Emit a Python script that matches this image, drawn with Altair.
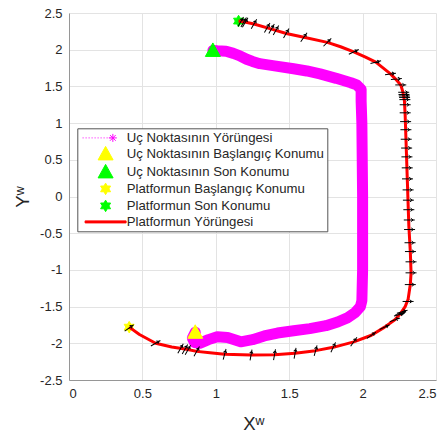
import math
import altair as alt
import pandas as pd

# Uç noktasının (end effector) yörüngesi
uc_x = [0.86, 0.84, 0.855, 0.89, 0.95, 1.01, 1.08, 1.17, 1.25, 1.33, 1.42, 1.53,
        1.64, 1.75, 1.83, 1.90, 1.95, 1.985, 1.995, 2.0, 2.0, 1.995, 1.99, 1.99,
        1.96, 1.92, 1.82, 1.71, 1.62, 1.53, 1.40, 1.30, 1.25, 1.21, 1.16, 1.12,
        1.07, 1.01, 0.98]
uc_y = [-1.85, -1.93, -1.99, -2.0, -1.95, -1.91, -1.92, -1.98, -1.95, -1.90, -1.86, -1.83,
        -1.80, -1.76, -1.71, -1.65, -1.58, -1.50, -1.42, -1.0, 0.0, 1.0, 1.30, 1.46,
        1.52, 1.55, 1.61, 1.67, 1.71, 1.74, 1.78, 1.81, 1.84, 1.87, 1.92, 1.95,
        1.98, 1.985, 1.99]

# Platformun yörüngesi
pl_x = [0.41, 0.48, 0.59, 0.70, 0.80, 0.87, 0.96, 1.06, 1.24, 1.40, 1.54, 1.68,
        1.80, 1.94, 2.06, 2.15, 2.22, 2.26, 2.29, 2.31, 2.325, 2.33, 2.325, 2.315,
        2.31, 2.305, 2.30, 2.295, 2.29, 2.285, 2.275, 2.26, 2.22, 2.19, 2.09, 2.02,
        1.94, 1.85, 1.76, 1.60, 1.48, 1.38, 1.26, 1.19, 1.155]
pl_y = [-1.78, -1.88, -2.0, -2.05, -2.08, -2.11, -2.13, -2.15, -2.16, -2.155, -2.135, -2.10,
        -2.055, -1.98, -1.89, -1.78, -1.68, -1.59, -1.50, -1.40, -1.2, -1.04, -0.75, -0.40,
        -0.1, 0.2, 0.5, 0.8, 1.1, 1.30, 1.42, 1.52, 1.61, 1.67, 1.83, 1.90,
        1.97, 2.04, 2.10, 2.17, 2.22, 2.28, 2.35, 2.38, 2.39]

# Platform yönelim okları: konum ve açı (derece, saat yönünde)
ok_x = [1.17, 1.19, 1.20, 1.26, 1.35, 1.38, 1.41, 1.48, 1.60, 1.76, 1.94, 2.09, 2.19, 2.23,
        2.26, 2.28, 2.282, 2.284, 2.286, 2.288, 2.29, 2.29, 2.293, 2.295, 2.297, 2.30,
        2.302, 2.304, 2.306, 2.31, 2.312, 2.315, 2.318, 2.32, 2.323, 2.326, 2.33, 2.33,
        2.325, 2.31,
        0.41, 0.59, 0.76, 0.79, 0.81, 0.87, 1.06, 1.24, 1.40, 1.54, 1.68, 1.80, 1.94,
        2.06, 2.15, 2.22, 2.25, 2.26, 2.27]
ok_y = [2.38, 2.375, 2.37, 2.35, 2.30, 2.285, 2.265, 2.225, 2.17, 2.10, 1.97, 1.83, 1.67, 1.60,
        1.52, 1.42, 1.39, 1.37, 1.35, 1.32, 1.25, 1.14, 1.02, 0.91, 0.78, 0.66,
        0.54, 0.39, 0.24, 0.09, -0.05, -0.18, -0.32, -0.45, -0.63, -0.75, -0.89, -1.04,
        -1.20, -1.43,
        -1.79, -2.0, -2.07, -2.08, -2.09, -2.11, -2.15, -2.16, -2.155, -2.135, -2.10, -2.055, -1.98,
        -1.89, -1.78, -1.68, -1.61, -1.59, -1.57]
ok_aci = [300, 300, 300, 300, 300, 300, 300, 300, 305, 315, 335, 345, 352, 355,
          0, 0, 0, 0, 0, 0, 0, 0, 0, 0, 0, 0,
          0, 0, 0, 0, 0, 0, 0, 0, 0, 0, 0, 0,
          0, 0,
          325, 330, 300, 300, 300, 300, 285, 280, 280, 280, 285, 295, 305,
          325, 335, 340, 345, 345, 345]

seriler = ["Uç Noktasının Yörüngesi", "Uç Noktasının Başlangıç Konumu",
           "Uç Noktasının Son Konumu", "Platformun Başlangıç Konumu",
           "Platformun Son Konumu", "Platformun Yörüngesi"]
renkler = ["#FF00FF", "#FFFF00", "#00FF00", "#FFFF00", "#00FF00", "#FF0000"]


def hexagram(r):
    pts = []
    for k in range(12):
        a = math.radians(-90 + 30 * k)
        rr = r if k % 2 == 0 else r / math.sqrt(3)
        pts.append(f"{rr * math.cos(a):.3f},{rr * math.sin(a):.3f}")
    return "M" + "L".join(pts) + "Z"


def noktali_yildiz():
    parts = []
    x = -4.6
    while x < 1.0:
        parts.append(f"M{x:.2f},0L{x + 0.2:.2f},0")
        x += 0.6
    cx, s, d = 1.45, 0.8, 0.57
    parts.append(f"M{cx},{-s}L{cx},{s}M{cx - s},0L{cx + s},0")
    parts.append(f"M{cx - d},{-d}L{cx + d},{d}M{cx - d},{d}L{cx + d},{-d}")
    return "".join(parts)


ucgen = "M0,-1.5L1.5,1.2L-1.5,1.2Z"
cizgi = "M-4.1,-0.2L4.1,-0.2L4.1,0.2L-4.1,0.2Z"
sekiller = [noktali_yildiz(), ucgen, ucgen, hexagram(1.15), hexagram(1.15), cizgi]
ok_sekli = "M-1,0L1,0M0.3,-0.3L0.7,0L0.3,0.3"

uc_df = pd.DataFrame({"x": uc_x, "y": uc_y, "i": range(len(uc_x))})
pl_df = pd.DataFrame({"x": pl_x, "y": pl_y, "i": range(len(pl_x))})
ok_df = pd.DataFrame({"x": ok_x, "y": ok_y, "aci": ok_aci})
nokta_df = pd.DataFrame({
    "seri": seriler[1:5],
    "x": [uc_x[0], uc_x[-1], pl_x[0], pl_x[-1]],
    "y": [uc_y[0], uc_y[-1], pl_y[0], pl_y[-1]],
})

FONT = "Liberation Sans"
TEXT = "#262626"
ticks = [0, 0.5, 1, 1.5, 2, 2.5]
yticks = [-2.5, -2, -1.5, -1, -0.5, 0, 0.5, 1, 1.5, 2, 2.5]

xenc = alt.X("x:Q", scale=alt.Scale(domain=[0, 2.5], nice=False, zero=False),
             axis=alt.Axis(values=ticks, tickCount=len(ticks),
                           labelExpr="toString(datum.value)", labelOverlap=False,
                           title="Xʷ", titleX=184.3, titleY=49.5,
                           titleAlign="center", titleBaseline="alphabetic"))
yenc = alt.Y("y:Q", scale=alt.Scale(domain=[-2.5, 2.5], nice=False, zero=False),
             axis=alt.Axis(values=yticks, tickCount=len(yticks),
                           labelExpr="toString(datum.value)", labelOverlap=False,
                           title="Yʷ", titleAngle=270, titleX=-41, titleY=183.5,
                           titleAlign="center", titleBaseline="alphabetic"))

lejant = alt.Legend(title=None, orient="none", legendX=8.3, legendY=115.3,
                    fillColor="white", strokeColor="#555555", padding=3,
                    rowPadding=0, gridAlign="none",
                    symbolSize=100, symbolStrokeWidth=1,
                    symbolOffset=18.7, labelOffset=14.5, symbolOpacity=1,
                    labelFont=FONT, labelFontSize=13.2, labelColor=TEXT, labelLimit=0)
olcek_renk = alt.Scale(domain=seriler, range=renkler)
olcek_sekil = alt.Scale(domain=seriler, range=sekiller)

uc_katman = alt.Chart(uc_df).mark_line(
    color="#FF00FF", strokeWidth=11, strokeJoin="round", strokeCap="round"
).encode(x=xenc, y=yenc, order="i:Q")

nokta_katman = alt.Chart(nokta_df).mark_point(
    filled=True, opacity=1, strokeWidth=1, size=100
).encode(
    x="x:Q", y="y:Q",
    fill=alt.Fill("seri:N", scale=olcek_renk, legend=lejant),
    stroke=alt.Stroke("seri:N", scale=olcek_renk, legend=lejant),
    shape=alt.Shape("seri:N", scale=olcek_sekil, legend=lejant),
)

pl_katman = alt.Chart(pl_df).mark_line(
    color="#FF0000", strokeWidth=3, strokeJoin="round"
).encode(x="x:Q", y="y:Q", order="i:Q")

ok_katman = alt.Chart(ok_df).mark_point(
    shape=ok_sekli, stroke="black", strokeWidth=1, filled=False, opacity=1, size=121
).encode(x="x:Q", y="y:Q", angle=alt.Angle("aci:Q", scale=None))

chart = alt.layer(uc_katman, nokta_katman, pl_katman, ok_katman).properties(
    width=367, height=367,
    autosize=alt.AutoSizeParams(type="none"),
    padding={"left": 69, "top": 13, "right": 11, "bottom": 56},
    background="white",
).configure_view(stroke=None).configure_axis(
    grid=True, gridColor="#e3e3e3", gridWidth=1,
    domainColor="#969696", domainWidth=1, ticks=False,
    labelFont=FONT, labelFontSize=13, labelColor=TEXT, labelPadding=7,
    titleFont=FONT, titleFontSize=18.5, titleFontWeight="normal", titleColor=TEXT,
)

chart.save("out.html", embed_options={"renderer": "svg", "actions": False})
